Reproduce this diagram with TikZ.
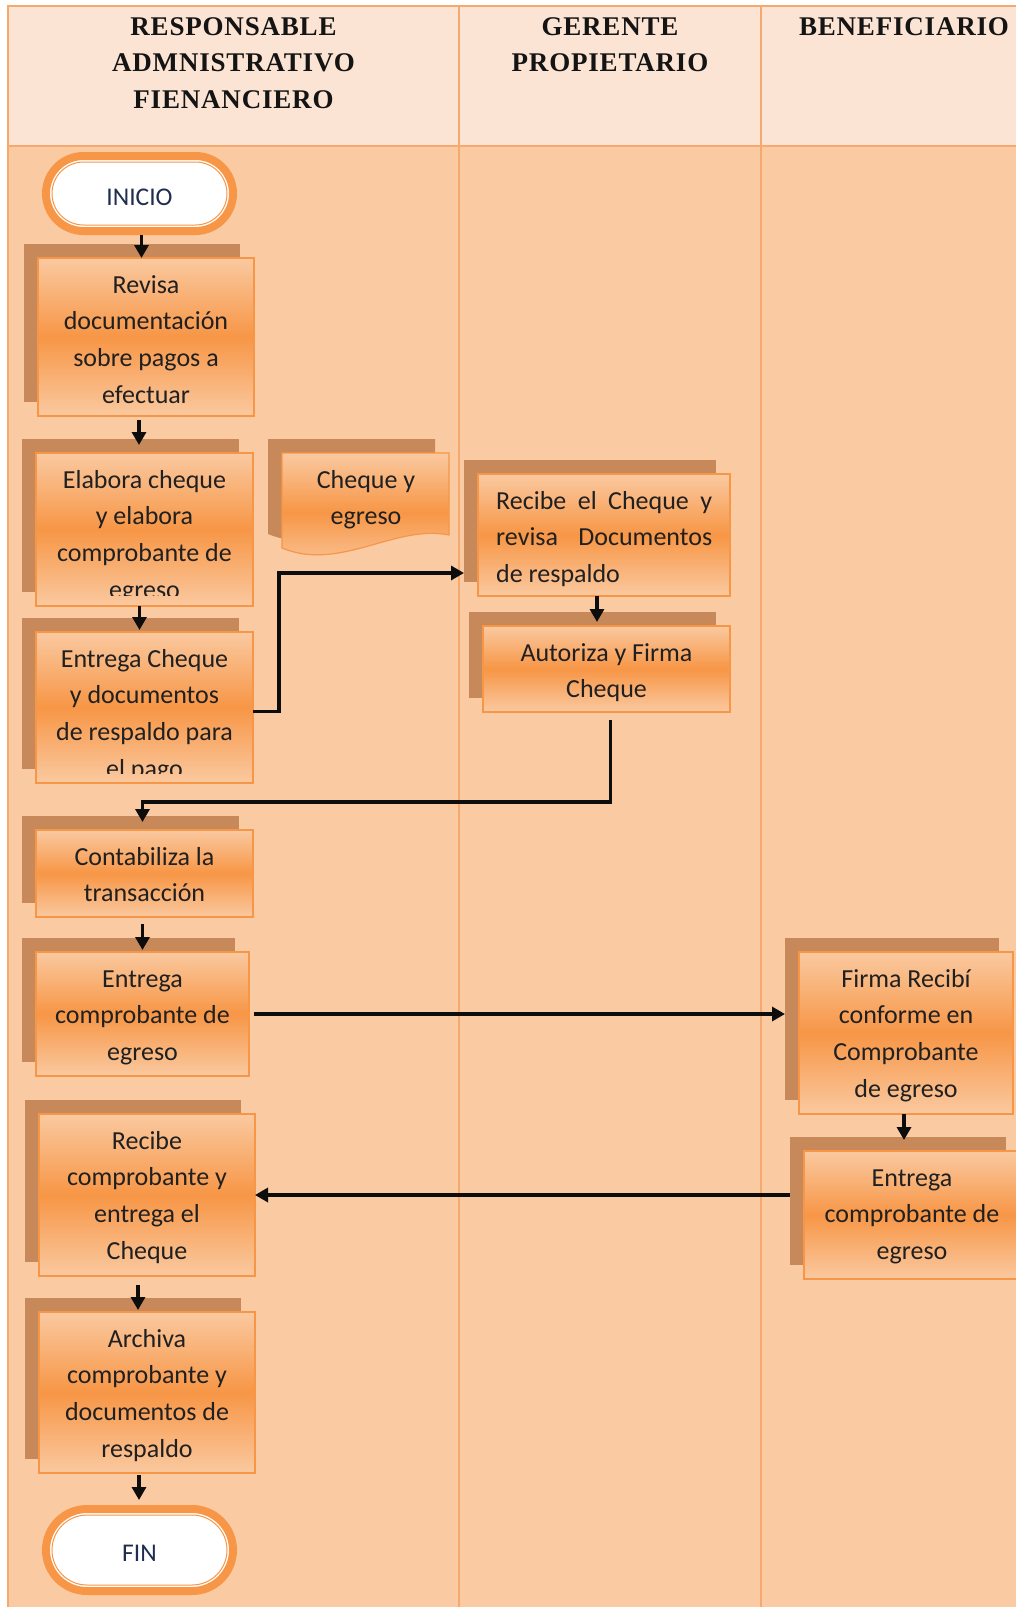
\documentclass[tikz,border=0pt]{standalone}
\usepackage{fontspec}
\usetikzlibrary{arrows.meta,calc}
\newfontfamily\carlito{Carlito}
\newfontfamily\hdrserif[LetterSpace=3]{Liberation Serif}
\definecolor{hdrbg}{HTML}{FCE4D4}
\definecolor{bodybg}{HTML}{FACAA2}
\definecolor{laneln}{HTML}{F6A96E}
\definecolor{shadowc}{HTML}{C8895A}
\definecolor{boxlo}{HTML}{FAC9A0}
\definecolor{boxhi}{HTML}{F79646}
\definecolor{boxln}{HTML}{F79646}
\definecolor{txt}{HTML}{202020}
\definecolor{termtxt}{HTML}{1F2D4F}
\definecolor{ringc}{HTML}{F79646}
\newcommand\fl{\rule{0pt}{22pt}}
\newcommand\hl{\rule{0pt}{20pt}}
\newcommand\pbox[5]{%
  \node[shadowbox, minimum width={#4-#2}, minimum height={#5-#3}] (#1s) at ({(#2+#4)/2-14},{(#3+#5)/2-14}) {};
  \node[procbox, minimum width={#4-#2}, minimum height={#5-#3}] (#1) at ({(#2+#4)/2},{(#3+#5)/2}) {};
}
\begin{document}
\begin{tikzpicture}[x=1pt,y=-1pt,
  shadowbox/.style={rectangle, fill=shadowc, draw=none, inner sep=0pt, outer sep=0pt},
  procbox/.style={rectangle, draw=boxln, line width=1.2pt, top color=boxlo, bottom color=boxlo, middle color=boxhi, inner sep=0pt, outer sep=0pt},
  boxtext/.style={font=\carlito\fontsize{26}{36.7}\selectfont, text=txt, align=center, inner sep=0pt, anchor=north},
  hdrtext/.style={font=\hdrserif\bfseries\fontsize{27}{36.5}\selectfont, text=black!92, align=center, inner sep=0pt, anchor=north},
  term/.style={rectangle, draw=ringc, line width=8pt, fill=white, inner sep=0pt, outer sep=0pt},
  ring/.style={draw=ringc, line width=1pt},
  termtext/.style={font=\carlito\fontsize{25.5}{30}\selectfont, text=termtxt, inner sep=0pt},
  arr/.style={draw=black!95, line width=3.2pt, -{Triangle[length=13pt,width=14pt]}},
  lane/.style={draw=laneln, line width=1.5pt}]
\useasboundingbox (0,0) rectangle (1016,1607);
\clip (0,0) rectangle (1016,1607);
\fill[white] (0,0) rectangle (1016,1607);
\fill[hdrbg] (8,6) rectangle (1030,146);
\fill[bodybg] (8,146) rectangle (1030,1620);
\draw[lane] (1030,6) -- (8,6) -- (8,1620);
\draw[lane] (8,146) -- (1030,146);
\draw[lane] (459,6) -- (459,1620);
\draw[lane] (761,6) -- (761,1620);

% headers
\node[hdrtext] (h1) at (233.5,15) {\hl RESPONSABLE\\ADMNISTRATIVO\\FIENANCIERO};
\node[hdrtext] (h2) at (610,15) {\hl GERENTE\\PROPIETARIO};
\node[hdrtext] (h3) at (904,15) {\hl BENEFICIARIO};

% terminals
\node[term, minimum width=187pt, minimum height=75pt, rounded corners=37.5pt] (inicio) at (139.5,193.5) {};
\draw[ring, rounded corners=31.5pt] ($(inicio.center)+(-87.5,-31.5)$) rectangle ($(inicio.center)+(87.5,31.5)$);
\node[termtext] (inicioT) at ($(inicio.center)+(0,4)$) {INICIO};

\node[term, minimum width=187pt, minimum height=82pt, rounded corners=41pt] (fin) at (139.5,1550) {};
\draw[ring, rounded corners=35pt] ($(fin.center)+(-87.5,-35)$) rectangle ($(fin.center)+(87.5,35)$);
\node[termtext] (finT) at ($(fin.center)+(0,3)$) {FIN};

% process boxes
\pbox{b1}{38}{258}{254}{416}
\pbox{b2}{36}{453}{253}{606}
\pbox{b3}{36}{632}{253}{783}
\pbox{b4}{478}{474}{730}{596}
\pbox{b5}{483}{626}{730}{712}
\pbox{b6}{36}{830}{253}{917}
\pbox{b7}{36}{952}{249}{1076}
\pbox{b8}{799}{952}{1013}{1114}
\pbox{b9}{804}{1151}{1020}{1279}
\pbox{b10}{39}{1114}{255}{1276}
\pbox{b11}{39}{1312}{255}{1473}

% document shape
\path[fill=shadowc] (268,439) -- (435,439) -- (435,521) .. controls (381,510) and (326,558) .. (268,534) -- cycle;
\path[top color=boxlo, bottom color=boxlo, middle color=boxhi, draw=boxln, line width=1.2pt] (282,453) -- (449,453) -- (449,535) .. controls (395,524) and (340,572) .. (282,548) -- cycle;
\node[boxtext] (doct) at (366,466) {\fl Cheque y\\egreso};

% texts
\node[boxtext] (t1) at ([yshift=-13pt]b1.north) {\fl Revisa\\documentación\\sobre pagos a\\efectuar};
\begin{scope}
\clip (b2.north west) rectangle ($(b2.south east)+(0,-11)$);
\node[boxtext] (t2) at ([yshift=-13pt]b2.north) {\fl Elabora cheque\\y elabora\\comprobante de\\egreso};
\end{scope}
\begin{scope}
\clip (b3.north west) rectangle ($(b3.south east)+(0,-10)$);
\node[boxtext] (t3) at ([yshift=-13pt]b3.north) {\fl Entrega Cheque\\y documentos\\de respaldo para\\el pago};
\end{scope}
\node[boxtext, align=justify, text width=216pt, anchor=north west] (t4) at (496,487) {\noindent\fl Recibe el Cheque y\linebreak revisa Documentos\linebreak de respaldo};
\node[boxtext] (t5) at ([yshift=-13pt]b5.north) {\fl Autoriza y Firma\\Cheque};
\node[boxtext] (t6) at ([yshift=-13pt]b6.north) {\fl Contabiliza la\\transacción};
\node[boxtext] (t7) at ([yshift=-13pt]b7.north) {\fl Entrega\\comprobante de\\egreso};
\node[boxtext] (t8) at ([yshift=-13pt]b8.north) {\fl Firma Recibí\\conforme en\\Comprobante\\de egreso};
\node[boxtext] (t9) at ([yshift=-13pt]b9.north) {\fl Entrega\\comprobante de\\egreso};
\node[boxtext] (t10) at ([yshift=-13pt]b10.north) {\fl Recibe\\comprobante y\\entrega el\\Cheque};
\node[boxtext] (t11) at ([yshift=-13pt]b11.north) {\fl Archiva\\comprobante y\\documentos de\\respaldo};

% connectors
\draw[arr] ($(inicio.south)+(2,4)$) -- ++(0,23);
\draw[arr] ($(b1.south)+(-7,4)$) -- ++(0,25);
\draw[arr] ($(b2.south)+(-5,0)$) -- ++(0,24);
\coordinate (k1) at (279,573);
\draw[arr] ($(b3.east)+(0,4)$) -| (k1) -- (k1 -| b4s.west);
\draw[arr] ($(b4.south)+(-7,0)$) -- ++(0,26);
\draw[arr] ($(b5.south)+(4,8)$) |- ($(b6.north)+(-2,-28)$) -- ($(b6.north)+(-2,-8)$);
\draw[arr] ($(b6.south)+(-2,7)$) -- ++(0,26);
\draw[arr] ($(b7.east)+(5,0)$) -- (b7.east -| b8s.west);
\draw[arr] ($(b8.south)+(-2,0)$) -- ++(0,26);
\draw[arr] (b10.east -| b9s.west) -- (b10.east);
\draw[arr] ($(b10.south)+(-9,9)$) -- ++(0,25);
\draw[arr] ($(b11.south)+(-8,2)$) -- ++(0,25);
\end{tikzpicture}
\end{document}
